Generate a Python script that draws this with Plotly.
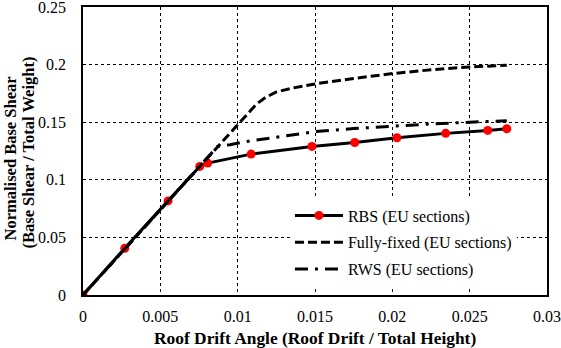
import plotly.graph_objects as go

# RBS (EU sections)
rbs_x = [0, 0.0027, 0.0055, 0.00755, 0.00806, 0.01087, 0.0148, 0.01757, 0.0203, 0.02345, 0.02617, 0.0274]
rbs_y = [0, 0.0406, 0.0817, 0.1116, 0.1145, 0.1223, 0.129, 0.1324, 0.1365, 0.1403, 0.1429, 0.1443]

# Fully-fixed (EU sections)
ff_x = [0, 0.0075, 0.0105, 0.0112, 0.0118, 0.0125, 0.0135, 0.015, 0.0175, 0.02, 0.0225, 0.025, 0.0274]
ff_y = [0, 0.111, 0.156, 0.1655, 0.1715, 0.1762, 0.1795, 0.1832, 0.188, 0.1922, 0.1955, 0.198, 0.1994]

# RWS (EU sections)
rws_x = [0, 0.0075, 0.0087, 0.0095, 0.0107, 0.013, 0.015, 0.0175, 0.02, 0.0225, 0.025, 0.0274]
rws_y = [0, 0.111, 0.129, 0.1305, 0.1335, 0.138, 0.1418, 0.1445, 0.1468, 0.1485, 0.15, 0.1513]

x_ticks = [0, 0.005, 0.01, 0.015, 0.02, 0.025, 0.03]
x_ticklabels = ["0", "0.005", "0.01", "0.015", "0.02", "0.025", "0.03"]
y_ticks = [0, 0.05, 0.1, 0.15, 0.2, 0.25]
y_ticklabels = ["0", "0.05", "0.1", "0.15", "0.2", "0.25"]

x_title = "Roof Drift Angle (Roof Drift / Total Height)"
y_title_1 = "Normalised Base Shear"
y_title_2 = "(Base Shear / Total Weight)"

FONT = "Liberation Serif"

fig = go.Figure()
fig.add_trace(go.Scatter(
    x=rbs_x, y=rbs_y, mode="lines+markers", name="RBS (EU sections)",
    legendgroup="a",
    line=dict(color="black", width=3),
    marker=dict(color="red", size=9),
))
fig.add_trace(go.Scatter(
    x=ff_x, y=ff_y, mode="lines", name="Fully-fixed (EU sections)",
    legendgroup="b",
    line=dict(color="black", width=3, dash="9px,4px"),
))
fig.add_trace(go.Scatter(
    x=rws_x, y=rws_y, mode="lines", name="RWS (EU sections)",
    legendgroup="c",
    line=dict(color="black", width=3, dash="13px,7px,3px,7px"),
))

fig.update_layout(
    width=561, height=348,
    margin=dict(l=83, r=14, t=7, b=53),
    paper_bgcolor="white", plot_bgcolor="white",
    font=dict(family=FONT, size=16, color="black"),
    showlegend=True,
    legend=dict(
        x=0.446, y=0.335, xanchor="left", yanchor="top",
        bgcolor="white", borderwidth=0,
        font=dict(family=FONT, size=16, color="black"),
        itemwidth=48, tracegroupgap=3, traceorder="grouped",
    ),
    annotations=[
        dict(text="<b>" + x_title + "</b>", xref="paper", yref="paper",
             x=0.5, y=-0.149, xanchor="center", yanchor="middle",
             showarrow=False, font=dict(family=FONT, size=17.4)),
        dict(text="<b>" + y_title_1 + "</b>", xref="paper", yref="paper",
             x=(10 - 83) / 464, y=(295 - 158.5) / 288, xanchor="center", yanchor="middle",
             textangle=-90, showarrow=False, font=dict(family=FONT, size=16.5)),
        dict(text="<b>" + y_title_2 + "</b>", xref="paper", yref="paper",
             x=(28 - 83) / 464, y=(295 - 152.5) / 288, xanchor="center", yanchor="middle",
             textangle=-90, showarrow=False, font=dict(family=FONT, size=16.5)),
    ],
)
fig.update_xaxes(
    range=[0, 0.03], tickvals=x_ticks, ticktext=x_ticklabels,
    showgrid=True, gridcolor="black", gridwidth=1, griddash="dot",
    showline=True, linecolor="black", linewidth=1.5, mirror=True,
    zeroline=False, ticks="", ticklabelstandoff=6, automargin=False,
    ticklabeloverflow="allow",
    tickfont=dict(family=FONT, size=16),
)
fig.update_yaxes(
    range=[0, 0.25], tickvals=y_ticks, ticktext=y_ticklabels,
    showgrid=True, gridcolor="black", gridwidth=1, griddash="dot",
    showline=True, linecolor="black", linewidth=1.5, mirror=True,
    zeroline=False, ticks="", ticklabelstandoff=12, automargin=False,
    ticklabeloverflow="allow",
    tickfont=dict(family=FONT, size=16),
)

fig.write_html("out.html", config={"displayModeBar": False},
               post_script="document.body.style.margin='0';")
